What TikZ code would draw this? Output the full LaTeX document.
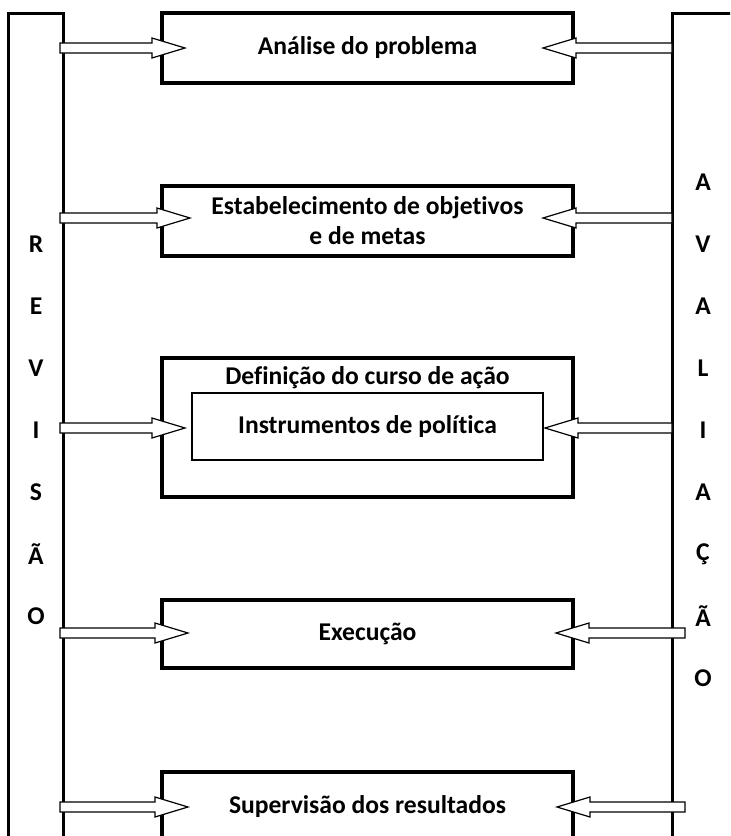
\documentclass[tikz,border=0pt]{standalone}
\usepackage{fontspec}
\setsansfont{Carlito}[Ligatures=NoCommon]
\usepackage{tikz}
\usetikzlibrary{positioning, calc}
\tikzset{
  % Box styles
  stepbox/.style={rectangle, draw, line width=1.6pt, minimum width=205.5pt, minimum height=35pt, inner sep=0pt, outer sep=0pt, font=\sffamily\bfseries\fontsize{12.8}{15}\selectfont, align=center},
  toolbox/.style={rectangle, draw, line width=1pt, minimum width=175.5pt, minimum height=33.5pt, inner sep=0pt, outer sep=0pt, font=\sffamily\bfseries\fontsize{12.8}{15}\selectfont, align=center},
  sidebar/.style={rectangle, draw, line width=1.5pt, anchor=north west, inner sep=0pt, outer sep=0pt},
  % Text styles
  sideletter/.style={font=\sffamily\bfseries\fontsize{12.8}{15}\selectfont},
  boxtitle/.style={font=\sffamily\bfseries\fontsize{12.8}{15}\selectfont},
  % Arrow styles
  hollowarrow/.style={draw, fill=white, line width=0.6pt, line join=miter}
}
% block arrow from tail #1 to tip #2
\newcommand{\blockarrow}[2]{%
  \draw[hollowarrow] let \p1=(#1), \p2=(#2), \n1={((\x2>\x1)*2-1)*16.5pt} in
    (\x1,\y1+2.5pt) -- (\x2-\n1,\y1+2.5pt) -- (\x2-\n1,\y1+5pt) -- (\x2,\y1)
    -- (\x2-\n1,\y1-5pt) -- (\x2-\n1,\y1-2.5pt) -- (\x1,\y1-2.5pt) -- cycle;}

\begin{document}
\begin{tikzpicture}[x=0.5pt, y=-0.5pt]
  \clip (0,0) rectangle (730,836);
  \fill[white] (0,0) rectangle (730,836);

  % Side columns
  \node[sidebar, minimum width=27.5pt, minimum height=430pt] (revisao) at (8,13) {};
  \node[sidebar, minimum width=40pt, minimum height=430pt] (avaliacao) at (672,13) {};
  \foreach \ch [count=\i] in {R,E,V,I,S,Ã,O}
    \node[sideletter] (rev-\i) at (36,182+62*\i) {\ch};
  \foreach \ch [count=\i] in {A,V,A,L,I,A,Ç,Ã,O}
    \node[sideletter] (ava-\i) at (703,120+62*\i) {\ch};

  % Stages
  \node[stepbox] (analise) at (367.5,48) {Análise do problema};
  \node[stepbox] (metas) at (367.5,221) {Estabelecimento de objetivos\\e de metas};
  \node[stepbox, minimum height=69.5pt] (curso) at (367.5,427.5) {};
  \node[boxtitle] (cursotitle) at (367.5,378) {Definição do curso de ação};
  \node[toolbox] (instr) at (367.5,426.5) {Instrumentos de política};
  \node[stepbox, minimum height=34pt] (execucao) at (367.5,634) {Execução};
  \node[stepbox] (supervisao) at (367.5,807) {Supervisão dos resultados};

  % Arrow ends on the columns
  \coordinate (r1) at (60,48);   \coordinate (a1) at (672,48);
  \coordinate (r2) at (60,218);  \coordinate (a2) at (672,218);
  \coordinate (r3) at (60,428);  \coordinate (a3) at (672,428);
  \coordinate (r4) at (60,633);  \coordinate (a4) at (685,633);
  \coordinate (r5) at (60,807);  \coordinate (a5) at (685,807);

  % Arrows
  \blockarrow{r1}{$(analise.west)+(23,0)$}
  \blockarrow{a1}{$(analise.east)+(-30,0)$}
  \blockarrow{r2}{$(metas.west)+(28,-3)$}
  \blockarrow{a2}{$(metas.east)+(-30,-3)$}
  \blockarrow{r3}{$(instr.west)+(-7,1.5)$}
  \blockarrow{a3}{$(instr.east)+(2,1.5)$}
  \blockarrow{r4}{$(execucao.west)+(26,-1)$}
  \blockarrow{a4}{$(execucao.east)+(-17,-1)$}
  \blockarrow{r5}{$(supervisao.west)+(26,0)$}
  \blockarrow{a5}{$(supervisao.east)+(-16,0)$}
\end{tikzpicture}
\end{document}
